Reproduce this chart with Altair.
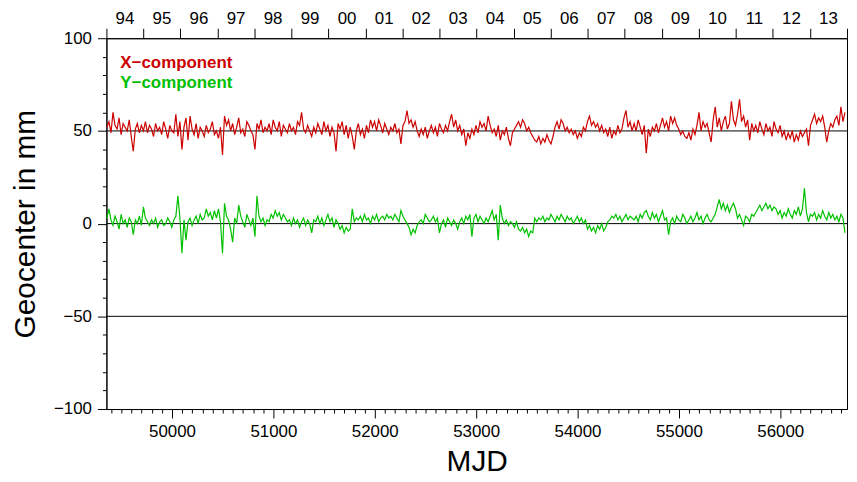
import altair as alt
import pandas as pd

# ---- data (one sample every 20 days) ----
mjd_start = 49358
mjd_step = 20

x_component = [
    52, 55, 49, 60, 53, 51, 57, 48, 54, 52, 50, 56, 47, 39, 51, 54, 49, 53, 50, 55,
    49, 53, 51, 47, 54, 50, 52, 48, 55, 51, 46, 53, 50, 49, 59, 47, 55, 40, 52, 57,
    45, 58, 51, 48, 54, 46, 52, 50, 47, 53, 49, 51, 55, 48, 50, 46, 52, 37, 58, 53,
    56, 50, 54, 48, 52, 57, 49, 51, 47, 55, 53, 50, 48, 40, 54, 51, 56, 49, 52, 50,
    54, 48, 56, 52, 50, 55, 47, 53, 51, 49, 54, 50, 52, 48, 55, 53, 60, 51, 49, 53,
    50, 47, 52, 49, 54, 51, 48, 55, 50, 53, 47, 52, 49, 39, 54, 51, 55, 48, 53, 46,
    52, 47, 40, 50, 54, 48, 51, 46, 53, 49, 56, 52, 55, 50, 56, 53, 49, 54, 51, 48,
    52, 50, 54, 49, 51, 43, 53, 55, 61, 54, 56, 52, 55, 50, 47, 51, 48, 52, 46, 50,
    53, 49, 52, 47, 54, 51, 49, 53, 50, 55, 59, 52, 56, 50, 53, 48, 51, 42, 49, 46,
    51, 48, 53, 49, 55, 52, 54, 50, 58, 53, 49, 51, 47, 53, 45, 50, 48, 52, 46, 42,
    49, 51, 53, 55, 52, 56, 54, 50, 52, 49, 47, 45, 44, 47, 43, 46, 44, 48, 45, 43,
    47, 52, 55, 51, 56, 54, 50, 52, 49, 51, 48, 50, 46, 49, 47, 52, 50, 55, 58, 53,
    55, 52, 54, 50, 53, 49, 51, 47, 52, 46, 50, 48, 53, 49, 51, 57, 61, 52, 55, 50,
    54, 50, 56, 52, 48, 53, 38, 51, 47, 52, 50, 54, 49, 53, 57, 52, 55, 50, 58, 54,
    57, 53, 51, 48, 50, 47, 46, 49, 45, 51, 48, 53, 60, 50, 55, 52, 54, 49, 44, 56,
    63, 52, 57, 50, 55, 58, 51, 54, 66, 56, 53, 59, 67, 55, 58, 52, 56, 45, 54, 50,
    53, 49, 55, 51, 48, 54, 50, 52, 47, 55, 51, 49, 53, 47, 50, 45, 49, 46, 50, 44,
    48, 45, 50, 47, 49, 51, 42, 53, 56, 59, 54, 57, 55, 58, 52, 44, 50, 54, 52, 56,
    58, 53, 63, 55, 60,
]

y_component = [
    3, 8, 2, -1, 4, 1, -3, 5, 0, 2, -2, 3, 1, -6, 2, 0, 4, -1, 9, 3,
    1, -1, 2, 0, 3, -2, 1, 2, -1, 0, 3, 1, -2, 2, 4, 15, 3, -16, 2, -9,
    1, 3, -1, 2, 4, 0, 5, 2, 3, 8, 4, 6, 2, 7, 3, 8, 1, -16, 11, 4,
    2, -3, -10, 3, 0, 10, 4, 1, -2, 5, 2, -1, 3, -7, 15, 4, 1, 3, -1, 2,
    1, 5, 3, 7, 4, 6, 2, 5, 3, 1, 2, -1, 3, 0, 2, -2, 1, 3, -1, 2,
    0, -5, 2, 1, 4, 0, 3, -1, 2, 5, 1, 3, -2, 2, 0, -3, -1, -5, -2, -4,
    -3, 8, 1, 3, 2, 4, 1, 5, 2, 3, 0, 4, 2, 5, 1, 3, 4, 2, 5, 3,
    4, 2, 5, 3, 1, 7, 4, 2, 0, -2, -6, -3, -5, -1, 1, 2, 0, 5, 3, 1,
    2, 4, 1, 3, -5, 0, 2, -2, 3, 1, -1, 2, 0, -3, 1, 3, 0, 4, 2, 5,
    -7, 3, 5, 1, 4, 2, 0, 3, 1, 4, 7, 2, 5, -9, 10, 3, 0, 2, -1, 1,
    0, -2, 1, -3, -4, -2, -5, -3, -7, -4, -5, 3, 1, 3, 2, 4, 1, 3, 2, 5,
    3, 1, 4, 2, 5, 3, 1, 4, 2, 3, 0, 2, 4, 1, 3, 0, 2, -3, -1, -4,
    -2, -5, -1, -3, 0, -4, -2, 1, 2, 4, 3, 5, 2, 4, 1, 3, 5, 2, 4, 3,
    2, 4, 1, 5, 3, 6, 7, 4, 2, 6, 3, 5, 1, 4, 7, 2, 3, -6, 1, 3,
    0, 4, 2, 1, 5, 3, 0, 2, 4, 1, 3, 6, 2, 4, 0, 3, 5, 2, 1, 3,
    5, 9, 13, 8, 11, 7, 10, 6, 9, 11, 8, 3, 5, 2, -1, 4, 3, 1, 5, 4,
    6, 8, 10, 7, 9, 11, 8, 10, 7, 9, 8, 5, 7, 3, 6, 4, 8, 5, 3, 7,
    5, 9, 4, 8, 19, 6, 1, 5, 4, 6, 2, 5, 3, 7, 4, 2, 6, 3, 5, 2,
    4, 1, 5, 3, -5,
]

series_names = ["X\u2212component", "Y\u2212component"]
series_colors = ["#cc0000", "#00c000"]

year_labels = ["94", "95", "96", "97", "98", "99", "00", "01", "02", "03",
               "04", "05", "06", "07", "08", "09", "10", "11", "12", "13"]
year_starts = [49353, 49718, 50083, 50449, 50814, 51179, 51544, 51910, 52275, 52640,
               53005, 53371, 53736, 54101, 54466, 54832, 55197, 55562, 55927, 56293,
               56658]

grid_levels = [50, 0, -50]
x_domain = [49353, 56658]
y_domain = [-100, 100]

# ---- tables ----
n = len(x_component)
mjd = [mjd_start + mjd_step * i for i in range(n)]
df = pd.DataFrame({
    "MJD": mjd + mjd,
    "value": x_component + y_component,
    "series": [series_names[0]] * n + [series_names[1]] * len(y_component),
})
years_df = pd.DataFrame({
    "mid": [(year_starts[i] + year_starts[i + 1]) / 2 for i in range(len(year_labels))],
    "label": year_labels,
})
grid_df = pd.DataFrame({"level": grid_levels})
legend_df = pd.DataFrame({"name": series_names})

FONT = "Liberation Sans"

xscale = alt.Scale(domain=x_domain, nice=False, zero=False)
yscale = alt.Scale(domain=y_domain, nice=False, zero=False)
cscale = alt.Scale(domain=series_names, range=series_colors)

x_axis = alt.Axis(
    values=list(range(49400, 56700, 100)),
    labelExpr="datum.value % 1000 === 0 ? datum.label : ''",
    format="d",
    tickSize={"condition": {"test": "datum.value % 1000 === 0", "value": 9}, "value": 4},
    labelPadding=6,
    labelOverlap=False,
    labelFlush=False,
    grid=False,
    title="MJD",
    titlePadding=7,
)
y_axis = alt.Axis(
    values=list(range(-100, 101, 10)),
    labelExpr="datum.value % 50 === 0 ? datum.label : ''",
    tickSize={"condition": {"test": "datum.value % 50 === 0", "value": 9}, "value": 4},
    labelPadding=6,
    labelOverlap=False,
    labelFlush=False,
    grid=False,
    title="Geocenter in mm",
    titlePadding=13,
)

grid = alt.Chart(grid_df).mark_rule(color="black", strokeWidth=1).encode(
    y=alt.Y("level:Q", scale=yscale, axis=y_axis)
)

lines = alt.Chart(df).mark_line(strokeWidth=1.2).encode(
    x=alt.X("MJD:Q", scale=xscale, axis=x_axis),
    y=alt.Y("value:Q", scale=yscale, axis=y_axis),
    color=alt.Color("series:N", scale=cscale, legend=None),
    detail="series:N",
)

top_years = alt.Chart(years_df).mark_text(
    font=FONT, fontSize=17, baseline="alphabetic", align="center", color="black"
).encode(
    x=alt.X("mid:Q", scale=xscale,
            axis=alt.Axis(orient="top", values=year_starts, labels=False,
                          tickSize=10, title=None, grid=False)),
    y=alt.value(-14),
    text="label:N",
)


def legend_entry(idx, ypos):
    return alt.Chart(legend_df).transform_filter(
        alt.datum.name == series_names[idx]
    ).mark_text(
        font=FONT, fontSize=17, fontWeight="bold", align="left",
        baseline="alphabetic", color=series_colors[idx]
    ).encode(
        x=alt.value(14),
        y=alt.value(ypos),
        text="name:N",
    )


chart = (
    alt.layer(grid, lines, top_years, legend_entry(0, 30), legend_entry(1, 50))
    .resolve_scale(x="independent")
    .properties(
        width=745,
        height=373,
        padding={"left": 99, "top": 29, "right": 2, "bottom": 70},
        autosize=alt.AutoSizeParams(type="none"),
        background="white",
    )
    .configure_view(stroke="black", strokeWidth=1)
    .configure_axis(
        labelFont=FONT,
        labelFontSize=17,
        labelColor="black",
        titleFont=FONT,
        titleFontSize=30,
        titleFontWeight="normal",
        titleColor="black",
        domainColor="black",
        domainWidth=1,
        tickColor="black",
        tickWidth=1,
    )
)

chart.save("out.html", embed_options={"renderer": "svg", "actions": False})
